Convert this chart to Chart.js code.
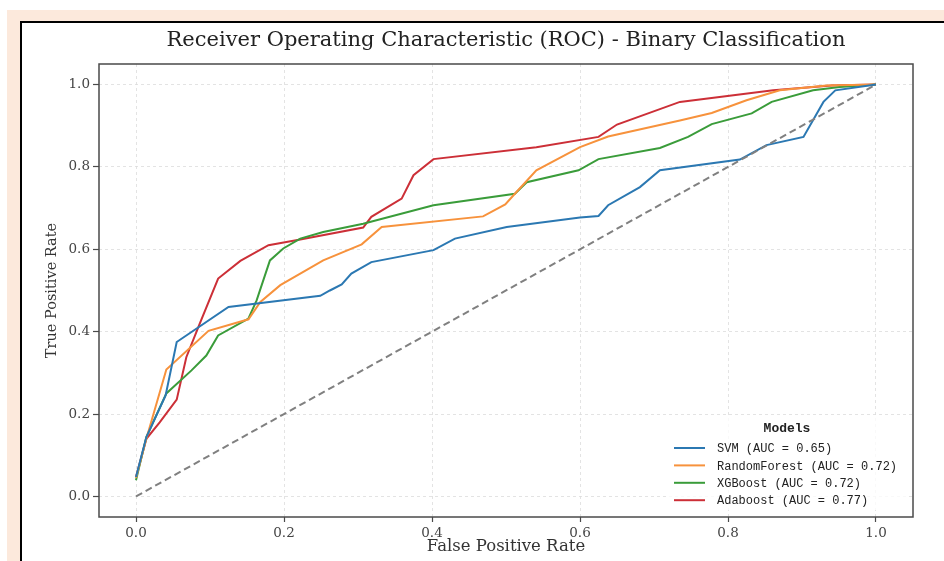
<!DOCTYPE html>
<html>
<head>
<meta charset="utf-8">
<script src="https://cdn.jsdelivr.net/npm/chart.js@4.4.1/dist/chart.umd.min.js"></script>
<style>
  html, body { margin: 0; padding: 0; background: #fff; width: 944px; height: 561px; overflow: hidden; }
  .peach { position: absolute; left: 7px; top: 10px; right: 0; bottom: 0; background: #fce9dc; }
  .frame { position: absolute; left: 20px; top: 21px; right: -20px; bottom: -20px; background: #fff; border: 2px solid #000; }
  #wrap { position: absolute; left: 0; top: 0; width: 944px; height: 561px; }
</style>
</head>
<body>
<div class="peach"></div>
<div class="frame"></div>
<div id="wrap"><canvas id="roc"></canvas></div>
<script>
// values
const svmFpr = [0, 0.014, 0.04, 0.055, 0.125, 0.249, 0.262, 0.278, 0.291, 0.318, 0.402, 0.431, 0.501, 0.6, 0.625, 0.638, 0.681, 0.708, 0.816, 0.852, 0.902, 0.929, 0.945, 1.0];
const svmTpr = [0.047, 0.144, 0.245, 0.375, 0.46, 0.487, 0.5, 0.515, 0.541, 0.569, 0.598, 0.626, 0.654, 0.677, 0.681, 0.707, 0.751, 0.792, 0.818, 0.853, 0.873, 0.958, 0.986, 1.0];

const rfFpr = [0, 0.014, 0.041, 0.098, 0.152, 0.168, 0.195, 0.253, 0.305, 0.332, 0.469, 0.499, 0.512, 0.541, 0.6, 0.638, 0.735, 0.778, 0.825, 0.87, 0.933, 1.0];
const rfTpr = [0.045, 0.14, 0.308, 0.402, 0.43, 0.472, 0.513, 0.573, 0.612, 0.654, 0.68, 0.709, 0.735, 0.792, 0.848, 0.874, 0.913, 0.931, 0.962, 0.986, 0.998, 1.0];

const xgbFpr = [0, 0.014, 0.041, 0.075, 0.095, 0.111, 0.152, 0.163, 0.181, 0.199, 0.222, 0.253, 0.307, 0.402, 0.512, 0.528, 0.598, 0.625, 0.708, 0.746, 0.778, 0.832, 0.859, 0.915, 0.951, 1.0];
const xgbTpr = [0.039, 0.144, 0.25, 0.306, 0.342, 0.391, 0.432, 0.476, 0.573, 0.602, 0.626, 0.642, 0.662, 0.707, 0.735, 0.763, 0.792, 0.819, 0.846, 0.873, 0.904, 0.93, 0.958, 0.986, 0.994, 1.0];

const adaFpr = [0, 0.014, 0.032, 0.055, 0.068, 0.086, 0.111, 0.141, 0.179, 0.222, 0.307, 0.318, 0.359, 0.375, 0.402, 0.541, 0.625, 0.65, 0.735, 0.861, 0.94, 1.0];
const adaTpr = [0.047, 0.14, 0.18, 0.235, 0.338, 0.419, 0.529, 0.572, 0.61, 0.624, 0.653, 0.679, 0.723, 0.78, 0.819, 0.848, 0.873, 0.903, 0.958, 0.986, 0.998, 1.0];

const chanceFpr = [0, 1];
const chanceTpr = [0, 1];

const modelNames = ['SVM', 'RandomForest', 'XGBoost', 'Adaboost'];
const modelAuc = [0.65, 0.72, 0.72, 0.77];
const modelColors = ['#2b78b2', '#f7923c', '#3a9c3a', '#cc2f37'];

const xTicks = [0, 0.2, 0.4, 0.6, 0.8, 1.0];
const yTicks = [0, 0.2, 0.4, 0.6, 0.8, 1.0];

const chartTitle = 'Receiver Operating Characteristic (ROC) - Binary Classification';

const toPoints = (xs, ys) => xs.map((x, i) => ({ x: x, y: ys[i] }));
const curves = [[svmFpr, svmTpr], [rfFpr, rfTpr], [xgbFpr, xgbTpr], [adaFpr, adaTpr]];

const datasets = curves.map((c, i) => ({
    label: modelNames[i] + ' (AUC = ' + modelAuc[i].toFixed(2) + ')',
    data: toPoints(c[0], c[1]),
    borderColor: modelColors[i],
    borderWidth: 2,
    pointRadius: 0,
    tension: 0,
    fill: false,
    order: 2
}));
datasets.push({
    label: '',
    data: toPoints(chanceFpr, chanceTpr),
    borderColor: '#808080',
    borderWidth: 2,
    borderDash: [7, 4],
    pointRadius: 0,
    fill: false,
    order: 1
});

const serif = '"DejaVu Serif", "Liberation Serif", serif';

// title centred over the plot area, like matplotlib does
const plotTitle = {
    id: 'plotTitle',
    afterDraw(chart) {
        const { ctx, chartArea } = chart;
        ctx.save();
        ctx.fillStyle = '#222';
        ctx.font = '21px ' + serif;
        ctx.textAlign = 'center';
        ctx.textBaseline = 'middle';
        ctx.fillText(chartTitle, (chartArea.left + chartArea.right) / 2, chartArea.top - 23);
        ctx.restore();
    }
};

// matplotlib style legend inside the plot, lower right
const insideLegend = {
    id: 'insideLegend',
    afterDatasetsDraw(chart) {
        const { ctx, chartArea } = chart;
        const items = chart.data.datasets.filter(d => d.label);
        const left = chartArea.right - 245;
        const right = chartArea.right - 7;
        const top = chartArea.bottom - 99;
        const bottom = chartArea.bottom - 7;
        ctx.save();
        ctx.fillStyle = 'rgba(255,255,255,0.8)';
        ctx.fillRect(left, top, right - left, bottom - top);
        ctx.fillStyle = '#222';
        ctx.textBaseline = 'middle';
        ctx.textAlign = 'center';
        ctx.font = 'bold 13px "Liberation Mono", "DejaVu Sans Mono", monospace';
        ctx.fillText('Models', (left + right) / 2, top + 11);
        ctx.textAlign = 'left';
        ctx.font = '12px "Liberation Mono", "DejaVu Sans Mono", monospace';
        items.forEach((d, i) => {
            const y = top + 30 + i * 17.4;
            ctx.strokeStyle = d.borderColor;
            ctx.lineWidth = 2;
            ctx.beginPath();
            ctx.moveTo(left + 6, y);
            ctx.lineTo(left + 37, y);
            ctx.stroke();
            ctx.fillText(d.label, left + 49, y + 1);
        });
        ctx.restore();
    }
};

// axes frame on all four sides
const axesFrame = {
    id: 'axesFrame',
    afterDraw(chart) {
        const { ctx, chartArea } = chart;
        ctx.save();
        ctx.strokeStyle = '#4a4a4a';
        ctx.lineWidth = 1.5;
        ctx.strokeRect(chartArea.left, chartArea.top, chartArea.right - chartArea.left, chartArea.bottom - chartArea.top);
        ctx.restore();
    }
};

new Chart(document.getElementById('roc'), {
    type: 'line',
    data: { datasets: datasets },
    plugins: [insideLegend, axesFrame, plotTitle],
    options: {
        responsive: true,
        maintainAspectRatio: false,
        animation: false,
        layout: { padding: { left: 0, right: 31, top: 64, bottom: 0 } },
        plugins: {
            legend: { display: false },
            tooltip: { enabled: false },
            title: { display: false }
        },
        scales: {
            x: {
                type: 'linear',
                min: -0.05,
                max: 1.05,
                afterBuildTicks: s => { s.ticks = xTicks.map(v => ({ value: v })); },
                afterFit: s => { s.height = 44; },
                ticks: {
                    color: '#444',
                    font: { family: serif, size: 13.5 },
                    padding: 3,
                    maxRotation: 0,
                    callback: v => Number(v).toFixed(1)
                },
                grid: {
                    color: '#dcdcdc',
                    lineWidth: 0.8,
                    tickColor: '#4a4a4a',
                    tickWidth: 1.2,
                    tickLength: 5,
                    tickBorderDash: []
                },
                border: { display: false, dash: [3, 3] },
                title: {
                    display: true,
                    text: 'False Positive Rate',
                    color: '#333',
                    font: { family: serif, size: 16.5 },
                    padding: { top: 0, bottom: 4 }
                }
            },
            y: {
                type: 'linear',
                min: -0.05,
                max: 1.05,
                afterBuildTicks: s => { s.ticks = yTicks.map(v => ({ value: v })); },
                afterFit: s => { s.width = 99; },
                ticks: {
                    color: '#444',
                    font: { family: serif, size: 13.5 },
                    padding: 3,
                    callback: v => Number(v).toFixed(1)
                },
                grid: {
                    color: '#dcdcdc',
                    lineWidth: 0.8,
                    tickColor: '#4a4a4a',
                    tickWidth: 1.2,
                    tickLength: 6,
                    tickBorderDash: []
                },
                border: { display: false, dash: [3, 3] },
                title: {
                    display: true,
                    text: 'True Positive Rate',
                    color: '#333',
                    font: { family: serif, size: 14.5 },
                    padding: { top: 44, bottom: 0 }
                }
            }
        }
    }
});
</script>
</body>
</html>
